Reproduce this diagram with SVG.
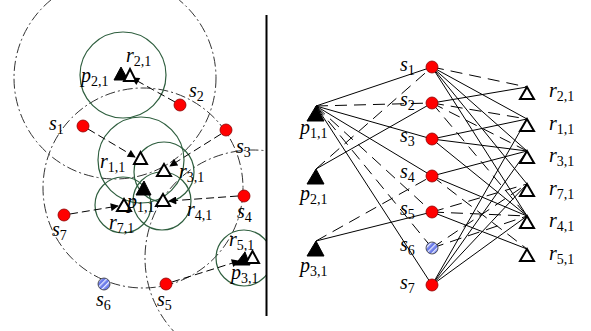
<svg xmlns="http://www.w3.org/2000/svg" width="591" height="331" viewBox="0 0 591 331">
<style>
.lbl{font-family:"Liberation Serif","Times New Roman",serif;font-size:20px;font-style:italic;fill:#000}
.sub{font-style:normal;font-size:14px}
.dd{fill:none;stroke:#333;stroke-width:1;stroke-dasharray:10 3 2 3}
.g{fill:none;stroke:#2E5E3E;stroke-width:1.2}
.arr{stroke:#000;stroke-width:1;stroke-dasharray:8 4;marker-end:url(#ah)}
.e{stroke:#000;stroke-width:1}
.d{stroke:#000;stroke-width:1;stroke-dasharray:12 7}
.red{fill:#FF0000;stroke:#8B0000;stroke-width:0.8}
.blue{fill:url(#hatch);stroke:#333;stroke-width:0.8}
.tf{fill:#000;stroke:#000;stroke-width:1}
.to{fill:#fff;stroke:#000;stroke-width:2}
</style>
<defs>
<marker id="ah" viewBox="0 0 10 10" refX="9" refY="5" markerWidth="10" markerHeight="8" orient="auto" markerUnits="userSpaceOnUse"><path d="M0,0 L10,5 L0,10 Z" fill="#000"/></marker>
<pattern id="hatch" patternUnits="userSpaceOnUse" width="4" height="4" patternTransform="rotate(45)"><rect width="4" height="4" fill="#6B7BE8"/><rect width="1.3" height="4" fill="#E8ECFF"/></pattern>
<clipPath id="lc"><rect x="0" y="0" width="266" height="331"/></clipPath>
</defs>
<rect width="591" height="331" fill="#fff"/>

<!-- LEFT: map -->
<g id="left-map" clip-path="url(#lc)">
  <g id="ranges">
    <circle class="dd" cx="115" cy="78" r="101"/>
    <circle class="dd" cx="143" cy="188" r="100"/>
    <circle class="dd" cx="253" cy="258" r="108"/>
  </g>
  <g id="cells">
    <circle class="g" cx="123" cy="75" r="43"/>
    <circle class="g" cx="141" cy="160" r="43"/>
    <circle class="g" cx="164" cy="172" r="30"/>
    <circle class="g" cx="162" cy="201" r="29"/>
    <circle class="g" cx="123" cy="205" r="28"/>
    <circle class="g" cx="244" cy="258" r="28"/>
  </g>
  <g id="left-arrows">
    <line class="arr" x1="88" y1="129" x2="135" y2="157"/>
    <line class="arr" x1="175" y1="102" x2="132" y2="78"/>
    <line class="arr" x1="221" y1="134" x2="170" y2="166"/>
    <line class="arr" x1="238" y1="196" x2="169" y2="201"/>
    <line class="arr" x1="70" y1="214" x2="118" y2="206"/>
    <line class="arr" x1="172" y1="282" x2="239" y2="261"/>
  </g>
  <g id="L-p21"><polygon class="tf" points="114,80 128,80 121,67"/></g>
  <g id="L-r21"><polygon class="to" points="124,81 136,81 130,69"/></g>
  <g id="L-r11"><polygon class="to" points="134,164 147,164 140.5,152"/></g>
  <g id="L-r31"><polygon class="to" points="157,176 171,176 164,164"/></g>
  <g id="L-p11"><polygon class="tf" points="136,195 151,195 144,181"/></g>
  <g id="L-r41"><polygon class="to" points="156,206 170,206 163,194"/></g>
  <g id="L-r71"><polygon class="to" points="117,211 131,211 124,199"/></g>
  <g id="L-p31"><polygon class="tf" points="235,265 250,265 245,252"/></g>
  <g id="L-r51"><polygon class="to" points="246,263 259,263 252.5,251"/></g>
  <g id="L-s1"><circle class="red" cx="83" cy="126" r="6"/></g>
  <g id="L-s2"><circle class="red" cx="180" cy="105" r="6"/></g>
  <g id="L-s3"><circle class="red" cx="226" cy="130" r="6"/></g>
  <g id="L-s4"><circle class="red" cx="244" cy="196" r="6"/></g>
  <g id="L-s7"><circle class="red" cx="64" cy="215" r="6"/></g>
  <g id="L-s6"><circle class="blue" cx="104" cy="284" r="6"/></g>
  <g id="L-s5"><circle class="red" cx="166" cy="284" r="6"/></g>
  <g id="left-labels">
    <text class="lbl" x="49" y="130">s<tspan class="sub" dy="4">1</tspan></text>
    <text class="lbl" x="189" y="97">s<tspan class="sub" dy="4">2</tspan></text>
    <text class="lbl" x="236" y="153">s<tspan class="sub" dy="4">3</tspan></text>
    <text class="lbl" x="237" y="218">s<tspan class="sub" dy="4">4</tspan></text>
    <text class="lbl" x="52" y="236">s<tspan class="sub" dy="4">7</tspan></text>
    <text class="lbl" x="96" y="306">s<tspan class="sub" dy="4">6</tspan></text>
    <text class="lbl" x="157" y="306">s<tspan class="sub" dy="4">5</tspan></text>
    <text class="lbl" x="126" y="62">r<tspan class="sub" dy="4">2,1</tspan></text>
    <text class="lbl" x="81" y="82">p<tspan class="sub" dy="4">2,1</tspan></text>
    <text class="lbl" x="100" y="168">r<tspan class="sub" dy="4">1,1</tspan></text>
    <text class="lbl" x="179" y="178">r<tspan class="sub" dy="4">3,1</tspan></text>
    <text class="lbl" x="127" y="208">p<tspan class="sub" dy="4">1,1</tspan></text>
    <text class="lbl" x="109" y="229">r<tspan class="sub" dy="4">7,1</tspan></text>
    <text class="lbl" x="187" y="216">r<tspan class="sub" dy="4">4,1</tspan></text>
    <text class="lbl" x="229" y="246">r<tspan class="sub" dy="4">5,1</tspan></text>
    <text class="lbl" x="231" y="279">p<tspan class="sub" dy="4">3,1</tspan></text>
  </g>
</g>

<line id="divider" x1="266.5" y1="15" x2="266.5" y2="316" stroke="#000" stroke-width="2"/>

<!-- RIGHT: bipartite graph -->
<g id="connectors">
  <line class="e" x1="316" y1="106" x2="432" y2="67"/>
  <line class="e" x1="316" y1="106" x2="432" y2="139"/>
  <line class="e" x1="316" y1="106" x2="432" y2="176"/>
  <line class="e" x1="316" y1="106" x2="432" y2="285"/>
  <line class="e" x1="316" y1="169" x2="432" y2="103"/>
  <line class="e" x1="316" y1="241" x2="432" y2="212"/>
  <line class="d" x1="316" y1="106" x2="432" y2="103"/>
  <line class="d" x1="316" y1="106" x2="432" y2="212"/>
  <line class="d" x1="316" y1="106" x2="432" y2="248"/>
  <line class="d" x1="316" y1="169" x2="432" y2="67"/>
  <line class="d" x1="316" y1="241" x2="432" y2="176"/>

  <line class="e" x1="432" y1="67" x2="527" y2="119"/>
  <line class="e" x1="432" y1="67" x2="527" y2="151"/>
  <line class="e" x1="432" y1="67" x2="527" y2="184"/>
  <line class="e" x1="432" y1="67" x2="527" y2="216"/>
  <line class="e" x1="432" y1="103" x2="527" y2="87"/>
  <line class="e" x1="432" y1="139" x2="527" y2="119"/>
  <line class="e" x1="432" y1="139" x2="527" y2="151"/>
  <line class="e" x1="432" y1="139" x2="527" y2="216"/>
  <line class="e" x1="432" y1="176" x2="527" y2="151"/>
  <line class="e" x1="432" y1="176" x2="527" y2="216"/>
  <line class="e" x1="432" y1="212" x2="527" y2="249"/>
  <line class="e" x1="432" y1="285" x2="527" y2="119"/>
  <line class="e" x1="432" y1="285" x2="527" y2="151"/>
  <line class="e" x1="432" y1="285" x2="527" y2="184"/>
  <line class="e" x1="432" y1="285" x2="527" y2="216"/>
  <line class="d" x1="432" y1="67" x2="527" y2="87"/>
  <line class="d" x1="432" y1="103" x2="527" y2="119"/>
  <line class="d" x1="432" y1="103" x2="527" y2="151"/>
  <line class="d" x1="432" y1="103" x2="527" y2="216"/>
  <line class="d" x1="432" y1="176" x2="527" y2="249"/>
  <line class="d" x1="432" y1="212" x2="527" y2="216"/>
  <line class="d" x1="432" y1="212" x2="527" y2="184"/>
  <line class="d" x1="432" y1="248" x2="527" y2="184"/>
  <line class="d" x1="432" y1="248" x2="527" y2="216"/>
</g>

<g id="p11"><polygon class="tf" points="307,121 324,121 316,106"/><text class="lbl" x="300" y="134">p<tspan class="sub" dy="4">1,1</tspan></text></g>
<g id="p21"><polygon class="tf" points="307,184 324,184 316,169"/><text class="lbl" x="300" y="200">p<tspan class="sub" dy="4">2,1</tspan></text></g>
<g id="p31"><polygon class="tf" points="307,256 324,256 316,241"/><text class="lbl" x="300" y="272">p<tspan class="sub" dy="4">3,1</tspan></text></g>

<g id="s1"><circle class="red" cx="432" cy="67" r="6"/><text class="lbl" x="400" y="71">s<tspan class="sub" dy="4">1</tspan></text></g>
<g id="s2"><circle class="red" cx="432" cy="103" r="6"/><text class="lbl" x="400" y="106">s<tspan class="sub" dy="4">2</tspan></text></g>
<g id="s3"><circle class="red" cx="432" cy="139" r="6"/><text class="lbl" x="400" y="142">s<tspan class="sub" dy="4">3</tspan></text></g>
<g id="s4"><circle class="red" cx="432" cy="176" r="6"/><text class="lbl" x="400" y="178">s<tspan class="sub" dy="4">4</tspan></text></g>
<g id="s5"><circle class="red" cx="432" cy="212" r="6"/><text class="lbl" x="400" y="215">s<tspan class="sub" dy="4">5</tspan></text></g>
<g id="s6"><circle class="blue" cx="432" cy="248" r="6"/><text class="lbl" x="400" y="251">s<tspan class="sub" dy="4">6</tspan></text></g>
<g id="s7"><circle class="red" cx="432" cy="285" r="6"/><text class="lbl" x="400" y="289">s<tspan class="sub" dy="4">7</tspan></text></g>

<g id="r21"><polygon class="to" points="520,99 534,99 527,87"/><text class="lbl" x="549" y="97">r<tspan class="sub" dy="4">2,1</tspan></text></g>
<g id="r11"><polygon class="to" points="520,131 534,131 527,119"/><text class="lbl" x="549" y="130">r<tspan class="sub" dy="4">1,1</tspan></text></g>
<g id="r31"><polygon class="to" points="520,163 534,163 527,151"/><text class="lbl" x="549" y="162">r<tspan class="sub" dy="4">3,1</tspan></text></g>
<g id="r71"><polygon class="to" points="520,196 534,196 527,184"/><text class="lbl" x="549" y="195">r<tspan class="sub" dy="4">7,1</tspan></text></g>
<g id="r41"><polygon class="to" points="520,228 534,228 527,216"/><text class="lbl" x="549" y="227">r<tspan class="sub" dy="4">4,1</tspan></text></g>
<g id="r51"><polygon class="to" points="520,261 534,261 527,249"/><text class="lbl" x="549" y="260">r<tspan class="sub" dy="4">5,1</tspan></text></g>
</svg>
